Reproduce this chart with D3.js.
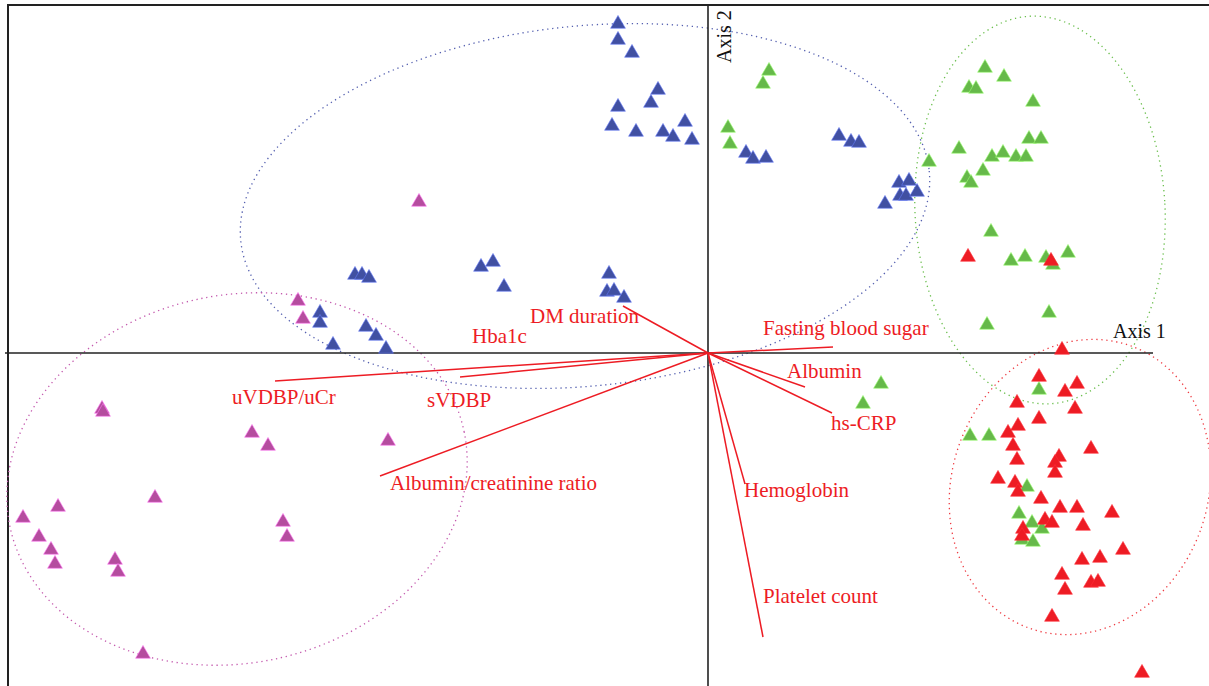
<!DOCTYPE html>
<html>
<head>
<meta charset="utf-8">
<script src="https://cdn.jsdelivr.net/npm/d3@7"></script>
<style>
  body { margin: 0; background: #fff; }
  svg { display: block; }
  text { font-family: "Liberation Serif", "DejaVu Serif", serif; }
</style>
</head>
<body>
<div id="content"><svg id="canvas"></svg></div>
<script>
// group scores on (Axis 1, Axis 2)
const blueX = [-0.90, -0.90, -0.76, -0.50, -0.57, -0.90, -0.96, -0.72, -0.45, -0.23, -0.35, -0.16,
  0.38, 0.45, 0.58, 1.31, 1.43, 1.51, 1.91, 2.01, 1.92, 1.98, 2.09, 1.77,
  -2.27, -2.15, -2.04, -0.99, -1.01, -0.94, -0.84,
  -3.53, -3.46, -3.39, -3.88, -3.88, -3.75, -3.42, -3.32, -3.22];
const blueY = [3.29, 3.13, 3.00, 2.63, 2.50, 2.46, 2.27, 2.21, 2.21, 2.31, 2.16, 2.13,
  2.00, 1.94, 1.95, 2.17, 2.11, 2.10, 1.70, 1.72, 1.57, 1.57, 1.61, 1.49,
  0.86, 0.91, 0.66, 0.79, 0.61, 0.62, 0.55,
  0.78, 0.78, 0.75, 0.40, 0.30, 0.08, 0.26, 0.17, 0.04];

const magentaX = [-2.89, -4.10, -4.05, -6.06, -6.05, -4.56, -4.40, -3.20, -5.53, -6.50,
  -6.85, -6.69, -6.57, -6.53, -5.93, -5.90, -4.25, -4.21, -5.65];
const magentaY = [1.51, 0.52, 0.34, -0.56, -0.59, -0.80, -0.93, -0.88, -1.45, -1.54,
  -1.65, -1.84, -1.97, -2.11, -2.07, -2.19, -1.69, -1.84, -3.01];

const greenX = [0.61, 0.55, 0.20, 0.22, 2.77, 2.96, 2.61, 2.68, 3.25, 2.21, 2.51, 2.84, 2.95,
  3.08, 3.18, 3.21, 3.33, 2.75, 2.59, 2.63, 2.83, 3.03, 3.17, 3.38, 3.45, 3.60, 3.41, 2.79,
  1.73, 1.55, 3.31, 2.62, 2.81, 3.19, 3.11, 3.24, 3.34, 3.14, 3.25];
const greenY = [2.82, 2.69, 2.25, 2.09, 2.85, 2.76, 2.65, 2.64, 2.51, 1.91, 2.04, 1.96, 2.00,
  1.96, 1.96, 2.14, 2.14, 1.82, 1.75, 1.70, 1.21, 0.92, 0.96, 0.95, 0.88, 1.00, 0.40, 0.28,
  -0.31, -0.51, -0.37, -0.83, -0.83, -1.34, -1.61, -1.70, -1.76, -1.87, -1.89];

const redX = [2.60, 3.43, 3.54, 3.31, 3.69, 3.57, 3.09, 3.67, 3.31, 3.10, 3.00, 3.05, 3.83,
  3.09, 3.51, 3.47, 3.47, 2.90, 3.07, 3.10, 3.33, 3.52, 3.69, 4.04, 3.37, 3.44, 3.75,
  3.15, 3.14, 4.15, 3.74, 3.92, 3.54, 3.57, 3.83, 3.90, 3.44, 4.34];
const redY = [0.96, 0.92, 0.03, -0.24, -0.31, -0.39, -0.50, -0.56, -0.66, -0.73, -0.80, -0.93, -0.96,
  -1.07, -1.04, -1.10, -1.20, -1.26, -1.30, -1.39, -1.46, -1.55, -1.55, -1.60, -1.67, -1.70, -1.73,
  -1.76, -1.83, -1.97, -2.07, -2.05, -2.22, -2.37, -2.30, -2.29, -2.64, -3.20];

// variable loadings (end of each red line), null = no line drawn
const varNames = ["DM duration", "Hba1c", "uVDBP/uCr", "sVDBP", "Albumin/creatinine ratio",
  "Fasting blood sugar", "Albumin", "hs-CRP", "Hemoglobin", "Platelet count"];
const loadX = [-0.85, null, -4.33, -2.48, -3.28, 1.25, 0.97, 1.24, 0.37, 0.55];
const loadY = [0.47, null, -0.28, -0.24, -1.23, 0.06, -0.34, -0.60, -1.31, -2.84];

// group ellipses: centre, radii, tilt (deg)
const ellCX = [-1.23, -4.71, 3.32, 3.72];
const ellCY = [1.47, -1.26, 1.43, -1.34];
const ellRX = [3.46, 2.32, 1.25, 1.28];
const ellRY = [1.80, 1.84, 1.94, 1.50];
const ellRot = [-5.8, -11.8, -3, 20];

const width = 1209;
const height = 686;

const colors = {
  blue: "#4150a2",
  magenta: "#b54d9f",
  green: "#66b94a",
  red: "#ed1c24"
};
const ellColors = ["#5560b0", "#c45aae", "#6cbf4f", "#ee3b42"];

// label anchors (data units)
const labelPos = {
  "DM duration": [-1.78, 0.30],
  "Hba1c": [-2.36, 0.10],
  "uVDBP/uCr": [-4.76, -0.51],
  "sVDBP": [-2.81, -0.54],
  "Albumin/creatinine ratio": [-3.18, -1.37],
  "Fasting blood sugar": [0.55, 0.18],
  "Albumin": [0.79, -0.25],
  "hs-CRP": [1.23, -0.77],
  "Hemoglobin": [0.36, -1.44],
  "Platelet count": [0.55, -2.50]
};

const canvas = d3.select("#canvas")
  .attr("width", width)
  .attr("height", height);

const xScale = d3.scaleLinear().domain([-7.08, 5.01]).range([0, width]);
const yScale = d3.scaleLinear().domain([3.53, -3.33]).range([0, height]);
const kx = xScale(1) - xScale(0);
const ky = yScale(0) - yScale(1);

// frame (only top and left edges fall inside the picture)
canvas.append("rect")
  .attr("x", 8).attr("y", 5)
  .attr("width", 1400).attr("height", 900)
  .attr("fill", "none")
  .attr("stroke", "#222")
  .attr("stroke-width", 2);

// ellipses
canvas.selectAll(".ell")
  .data(ellCX)
  .enter()
  .append("ellipse")
  .attr("class", "ell")
  .attr("cx", 0).attr("cy", 0)
  .attr("rx", (d, i) => ellRX[i] * kx)
  .attr("ry", (d, i) => ellRY[i] * ky)
  .attr("transform", (d, i) => `translate(${xScale(ellCX[i])},${yScale(ellCY[i])}) rotate(${ellRot[i]})`)
  .attr("fill", "none")
  .attr("stroke", (d, i) => ellColors[i])
  .attr("stroke-width", 1.3)
  .attr("stroke-dasharray", "1.3 3.7");

// axes
canvas.append("line")
  .attr("x1", xScale(-7.03)).attr("x2", xScale(4.45))
  .attr("y1", yScale(0)).attr("y2", yScale(0))
  .attr("stroke", "#222").attr("stroke-width", 1.6);
canvas.append("line")
  .attr("x1", xScale(0)).attr("x2", xScale(0))
  .attr("y1", 5).attr("y2", height)
  .attr("stroke", "#222").attr("stroke-width", 1.6);

canvas.append("text")
  .attr("x", xScale(4.05)).attr("y", yScale(0) - 15)
  .attr("font-size", 20)
  .attr("fill", "#111")
  .text("Axis 1");
canvas.append("text")
  .attr("transform", `translate(${xScale(0) + 23},63) rotate(-90)`)
  .attr("font-size", 20)
  .attr("fill", "#111")
  .text("Axis 2");

// points
const tri = d3.symbol().type(d3.symbolTriangle).size(95);
function drawGroup(xs, ys, color) {
  canvas.append("g")
    .selectAll("path")
    .data(xs)
    .enter()
    .append("path")
    .attr("d", tri)
    .attr("transform", (d, i) => `translate(${xScale(xs[i])},${yScale(ys[i])})`)
    .attr("fill", color)
    .attr("stroke", d3.color(color).brighter(1.2))
    .attr("stroke-width", 0.6);
}
drawGroup(blueX, blueY, colors.blue);
drawGroup(magentaX, magentaY, colors.magenta);
drawGroup(greenX, greenY, colors.green);
drawGroup(redX, redY, colors.red);

// variable vectors
canvas.append("g")
  .selectAll("line")
  .data(varNames.filter((d, i) => loadX[i] !== null))
  .enter()
  .append("line")
  .attr("x1", xScale(0)).attr("y1", yScale(0))
  .attr("x2", d => xScale(loadX[varNames.indexOf(d)]))
  .attr("y2", d => yScale(loadY[varNames.indexOf(d)]))
  .attr("stroke", "#ed1c24")
  .attr("stroke-width", 1.5);

canvas.append("g")
  .selectAll("text")
  .data(varNames)
  .enter()
  .append("text")
  .attr("x", d => xScale(labelPos[d][0]))
  .attr("y", d => yScale(labelPos[d][1]))
  .attr("font-size", 21)
  .attr("fill", "#ed1c24")
  .text(d => d);
</script>
</body>
</html>
